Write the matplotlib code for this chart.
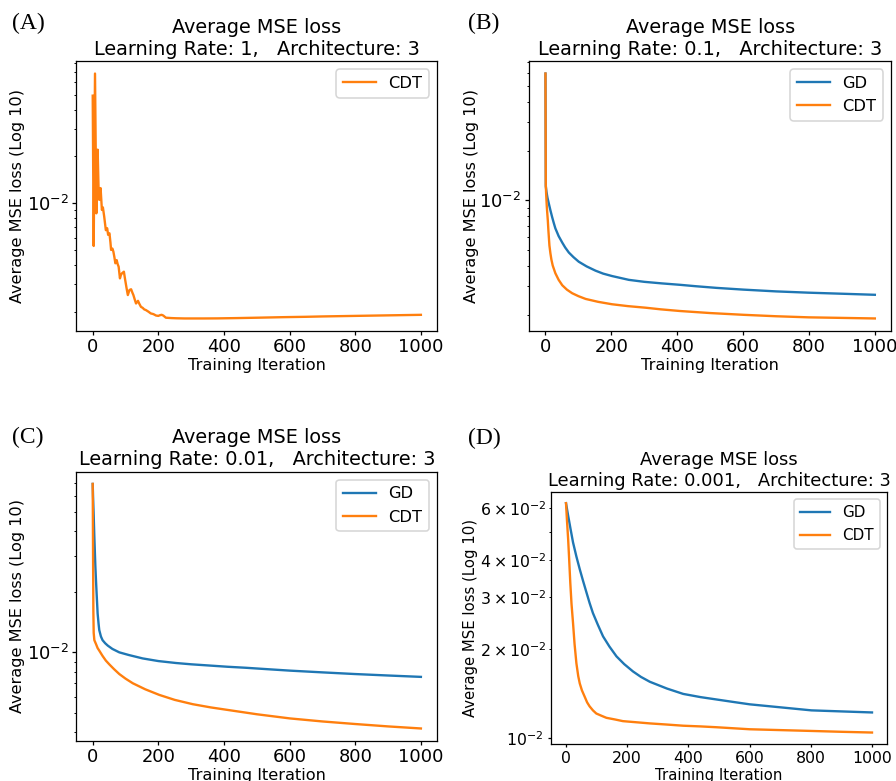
import matplotlib
matplotlib.use('Agg')
import matplotlib.pyplot as plt

# (A) learning rate 1, only CDT
a_iter = [0, 3, 7, 11, 15, 18, 20, 24, 28, 31, 35, 40, 44, 47, 51, 54, 56, 60, 63, 66,
          69, 73, 76, 79, 83, 86, 89, 95, 99, 103, 107, 112, 117, 121, 124, 128, 132, 138,
          142, 147, 152, 157, 162, 170, 177, 185, 193, 200, 205, 210, 215, 223, 240, 254,
          280, 300, 340, 380, 440, 500, 581, 650, 700, 800, 900, 1000]
a_cdt = [4.92e-2, 5.3e-3, 6.83e-2, 8.6e-3, 2.21e-2, 1.2e-2, 1.05e-2, 1.25e-2, 9.05e-3, 9.4e-3,
         8.2e-3, 6.7e-3, 6.9e-3, 6.25e-3, 6.4e-3, 5.6e-3, 5.0e-3, 5.1e-3, 4.87e-3, 4.5e-3,
         4.1e-3, 4.3e-3, 4.05e-3, 3.9e-3, 3.28e-3, 3.45e-3, 3.53e-3, 3.62e-3, 3.2e-3, 2.85e-3,
         2.56e-3, 2.76e-3, 2.79e-3, 2.65e-3, 2.56e-3, 2.4e-3, 2.26e-3, 2.35e-3, 2.25e-3, 2.15e-3,
         2.12e-3, 2.07e-3, 2.05e-3, 2.0e-3, 1.95e-3, 1.93e-3, 1.89e-3, 1.88e-3, 1.90e-3, 1.91e-3,
         1.89e-3, 1.83e-3, 1.82e-3, 1.815e-3, 1.81e-3, 1.81e-3, 1.81e-3, 1.812e-3, 1.82e-3, 1.83e-3,
         1.845e-3, 1.855e-3, 1.865e-3, 1.88e-3, 1.895e-3, 1.91e-3]

# (B) learning rate 0.1
b_gd_iter = [0, 1, 3, 6, 10, 15, 20, 25, 30, 40, 51, 60, 71, 85, 101, 125, 152, 175, 202, 230,
             253, 300, 354, 408, 456, 520, 601, 700, 799, 900, 1000]
b_gd = [5.95e-2, 1.22e-2, 1.13e-2, 1.04e-2, 9.6e-3, 8.7e-3, 7.94e-3, 7.3e-3, 6.75e-3, 6.05e-3,
        5.52e-3, 5.15e-3, 4.8e-3, 4.5e-3, 4.22e-3, 3.95e-3, 3.72e-3, 3.57e-3, 3.45e-3, 3.35e-3,
        3.27e-3, 3.18e-3, 3.11e-3, 3.05e-3, 2.99e-3, 2.92e-3, 2.85e-3, 2.78e-3, 2.73e-3, 2.69e-3,
        2.65e-3]
b_cdt_iter = [0, 1, 2, 3, 4, 5, 7, 9, 12, 15, 18, 22, 30, 40, 51, 65, 81, 100, 122, 160, 202,
              250, 304, 350, 408, 500, 601, 700, 799, 900, 1000]
b_cdt = [5.95e-2, 1.25e-2, 1.1e-2, 1.0e-2, 9.2e-3, 8.6e-3, 7.6e-3, 6.5e-3, 5.3e-3, 4.75e-3,
         4.35e-3, 4.0e-3, 3.59e-3, 3.27e-3, 3.03e-3, 2.85e-3, 2.71e-3, 2.6e-3, 2.5e-3, 2.4e-3,
         2.32e-3, 2.26e-3, 2.21e-3, 2.16e-3, 2.11e-3, 2.05e-3, 2.0e-3, 1.96e-3, 1.93e-3, 1.915e-3,
         1.90e-3]

# (C) learning rate 0.01
c_gd_iter = [0, 1, 3, 5, 8, 10, 12, 15, 18, 20, 25, 30, 38, 46, 60, 81, 110, 152, 200, 254,
             300, 355, 410, 467, 530, 601, 700, 799, 900, 1000]
c_gd = [6.89e-2, 6.0e-2, 4.8e-2, 3.74e-2, 2.7e-2, 2.28e-2, 1.95e-2, 1.56e-2, 1.38e-2, 1.29e-2,
        1.2e-2, 1.15e-2, 1.11e-2, 1.08e-2, 1.04e-2, 1.0e-2, 9.7e-3, 9.33e-3, 9.05e-3, 8.85e-3,
        8.72e-3, 8.6e-3, 8.48e-3, 8.38e-3, 8.25e-3, 8.11e-3, 7.95e-3, 7.8e-3, 7.67e-3, 7.55e-3]
c_cdt_iter = [0, 1, 2, 3, 5, 10, 15, 20, 30, 40, 51, 65, 81, 100, 122, 160, 203, 250, 305, 360,
              418, 500, 601, 700, 799, 900, 1000]
c_cdt = [6.89e-2, 3.2e-2, 1.6e-2, 1.25e-2, 1.15e-2, 1.1e-2, 1.05e-2, 1.02e-2, 9.6e-3, 9.1e-3,
         8.7e-3, 8.25e-3, 7.8e-3, 7.4e-3, 7.02e-3, 6.55e-3, 6.14e-3, 5.8e-3, 5.52e-3, 5.32e-3,
         5.15e-3, 4.92e-3, 4.69e-3, 4.53e-3, 4.4e-3, 4.28e-3, 4.18e-3]

# (D) learning rate 0.001
d_gd_iter = [0, 7, 15, 23, 34, 45, 56, 67, 77, 88, 104, 121, 142, 165, 190, 219, 245, 274, 330,
             383, 440, 492, 545, 600, 700, 802, 900, 1000]
d_gd = [6.25e-2, 5.67e-2, 5.1e-2, 4.6e-2, 4.12e-2, 3.73e-2, 3.4e-2, 3.11e-2, 2.87e-2, 2.65e-2,
        2.42e-2, 2.21e-2, 2.04e-2, 1.89e-2, 1.78e-2, 1.68e-2, 1.61e-2, 1.55e-2, 1.47e-2, 1.41e-2,
        1.375e-2, 1.35e-2, 1.325e-2, 1.30e-2, 1.27e-2, 1.24e-2, 1.23e-2, 1.22e-2]
d_cdt_iter = [0, 3, 7, 10, 14, 18, 23, 28, 34, 40, 45, 52, 61, 69, 77, 88, 99, 115, 132, 160,
              186, 230, 274, 330, 383, 440, 492, 600, 700, 802, 900, 1000]
d_cdt = [6.25e-2, 5.5e-2, 4.72e-2, 4.1e-2, 3.36e-2, 2.85e-2, 2.45e-2, 2.08e-2, 1.79e-2, 1.62e-2,
         1.53e-2, 1.45e-2, 1.38e-2, 1.32e-2, 1.28e-2, 1.24e-2, 1.21e-2, 1.19e-2, 1.17e-2, 1.155e-2,
         1.14e-2, 1.13e-2, 1.12e-2, 1.11e-2, 1.10e-2, 1.094e-2, 1.087e-2, 1.07e-2, 1.063e-2,
         1.056e-2, 1.049e-2, 1.043e-2]

W, H = 896, 781
DPI = 113
fig = plt.figure(figsize=(W / DPI, H / DPI), dpi=DPI)


def box(left, top, right, bottom):
    return [left / W, 1 - bottom / H, (right - left) / W, (bottom - top) / H]


def panel(rect, lr, series, letter, lx, ly, ylab_x, xlab_y, scale=1.0, tick_size=11.4,
          minor_pad=2.4):
    ax = fig.add_axes(rect)
    for x, y, color, label in series:
        ax.plot(x, y, color=color, label=label, lw=1.5)
    ax.set_yscale('log')
    ax.set_xticks([0, 200, 400, 600, 800, 1000])
    ax.set_title('Average MSE loss\nLearning Rate: %s,   Architecture: 3' % lr,
                 fontsize=12.3 * scale, pad=4 * scale)
    ax.set_xlabel('Training Iteration', fontsize=10.3 * scale)
    ax.set_ylabel('Average MSE loss (Log 10)', fontsize=10.3 * scale)
    ax.yaxis.set_label_coords(ylab_x, 0.5)
    ax.xaxis.set_label_coords(0.5, xlab_y)
    ax.tick_params(which='both', labelsize=tick_size)
    ax.tick_params(which='major', length=2.4 * scale, pad=2.4 * scale)
    ax.tick_params(which='minor', length=1.4 * scale, pad=minor_pad)
    ax.legend(loc='upper right', fontsize=10.4 * scale)
    fig.text(lx / W, 1 - ly / H, letter, family='Liberation Serif', fontsize=15,
             ha='left', va='center')
    return ax


panel(box(76.3, 61.3, 437.3, 330.7), '1',
      [(a_iter, a_cdt, 'C1', 'CDT')], '(A)', 12, 23, -0.142, -0.1025)
panel(box(529, 61.3, 891.3, 330.7), '0.1',
      [(b_gd_iter, b_gd, 'C0', 'GD'), (b_cdt_iter, b_cdt, 'C1', 'CDT')], '(B)', 468, 23,
      -0.139, -0.1025)
panel(box(76.3, 471.7, 437.3, 740.7), '0.01',
      [(c_gd_iter, c_gd, 'C0', 'GD'), (c_cdt_iter, c_cdt, 'C1', 'CDT')], '(C)', 12, 437,
      -0.142, -0.1026)
panel(box(550.7, 491.7, 887.3, 744), '0.001',
      [(d_gd_iter, d_gd, 'C0', 'GD'), (d_cdt_iter, d_cdt, 'C1', 'CDT')], '(D)', 468, 438,
      -0.216, -0.0963, scale=0.925, tick_size=10.0, minor_pad=1.2)

fig.savefig('out.png', dpi=DPI)
